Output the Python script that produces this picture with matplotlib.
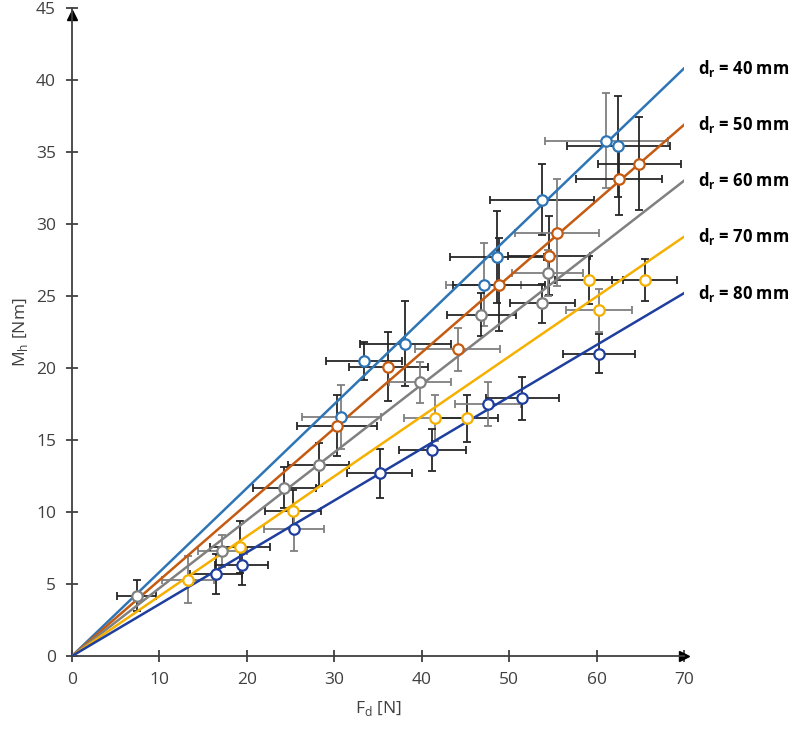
import matplotlib
matplotlib.use("Agg")
import matplotlib.pyplot as plt
import numpy as np

plt.rcParams['font.family'] = ['Open Sans', 'DejaVu Sans']

labels = ["40", "50", "60", "70", "80"]
colors = ["#2E75B6", "#C55A11", "#808080", "#F5B000", "#1F3F9E"]
slopes = [0.583, 0.527, 0.4715, 0.416, 0.36]  # fitted lines M = k*F

fd40 = [30.8, 33.4, 38.1, 47.1, 48.6, 53.8, 61.1, 62.5]
mh40 = [16.6, 20.5, 21.7, 25.8, 27.7, 31.7, 35.8, 35.4]
xe40 = [4.5, 4.4, 5.2, 4.3, 5.35, 5.95, 7.05, 5.9]
ye40 = [2.2, 1.3, 2.95, 2.85, 3.2, 2.45, 3.3, 3.5]

fd50 = [30.3, 36.2, 44.1, 48.8, 54.6, 55.5, 62.6, 64.9]
mh50 = [16.0, 20.1, 21.3, 25.8, 27.8, 29.4, 33.1, 34.2]
xe50 = [4.55, 4.55, 4.85, 5.25, 4.7, 4.8, 4.9, 4.7]
ye50 = [2.1, 2.4, 1.5, 3.2, 2.75, 3.7, 2.45, 3.2]

fd60 = [7.4, 17.2, 24.3, 28.2, 39.8, 46.8, 53.8, 54.4]
mh60 = [4.2, 7.3, 11.7, 13.3, 19.0, 23.7, 24.5, 26.6]
xe60 = [2.2, 2.8, 3.6, 3.5, 3.5, 3.95, 3.75, 4.1]
ye60 = [1.05, 1.1, 1.4, 1.5, 1.4, 1.5, 1.35, 1.6]

fd70 = [13.3, 19.2, 25.3, 41.5, 45.2, 59.1, 60.3, 65.5]
mh70 = [5.3, 7.6, 10.1, 16.5, 16.5, 26.1, 24.0, 26.1]
xe70 = [2.95, 3.45, 3.2, 3.5, 3.55, 3.9, 3.75, 3.75]
ye70 = [1.65, 1.8, 1.4, 1.6, 1.65, 1.65, 1.5, 1.45]

fd80 = [16.5, 19.4, 25.4, 35.2, 41.2, 47.6, 51.5, 60.3]
mh80 = [5.7, 6.3, 8.8, 12.7, 14.3, 17.5, 17.9, 21.0]
xe80 = [3.0, 3.05, 3.4, 3.7, 3.85, 3.8, 4.15, 4.1]
ye80 = [1.4, 1.4, 1.5, 1.7, 1.45, 1.5, 1.5, 1.35]

fds = [fd40, fd50, fd60, fd70, fd80]
mhs = [mh40, mh50, mh60, mh70, mh80]
xes = [xe40, xe50, xe60, xe70, xe80]
yes = [ye40, ye50, ye60, ye70, ye80]

fig = plt.figure(figsize=(8, 7.33), dpi=100)
ax = fig.add_axes([0.09, 0.105, 0.765, 0.884])

axcol = "#404040"
fline = np.array([0, 70])

# error bars first, alternating dark / light grey like the original
for i in range(5):
    for j in range(len(fds[i])):
        ec = "#262626" if (i + j) % 3 else "#7f7f7f"
        ax.errorbar(fds[i][j], mhs[i][j], xerr=xes[i][j], yerr=yes[i][j],
                    fmt='none', ecolor=ec, elinewidth=1.3, capsize=3.2,
                    capthick=1.3, zorder=2)

for i in range(5):
    ax.plot(fline, slopes[i] * fline, color=colors[i], lw=1.8, zorder=3)
    ax.plot(fds[i], mhs[i], 'o', ms=7.5, mfc='white', mec=colors[i], mew=1.6,
            ls='none', zorder=4)
    ax.annotate("d$_\\mathregular{r}$ = " + labels[i] + " mm",
                xy=(70, slopes[i] * 70), xytext=(10, 0),
                textcoords='offset points', va='center', ha='left',
                fontsize=12, fontweight='bold', color='black',
                annotation_clip=False)

ax.set_xlim(0, 70)
ax.set_ylim(0, 45)
ax.set_xticks(np.arange(0, 71, 10))
ax.set_yticks(np.arange(0, 46, 5))

for s in ['top', 'right']:
    ax.spines[s].set_visible(False)
for s in ['left', 'bottom']:
    ax.spines[s].set_color(axcol)
    ax.spines[s].set_linewidth(1.3)
ax.tick_params(direction='inout', length=9, width=1.3, color=axcol,
               labelsize=12.5, labelcolor=axcol, pad=7)

# arrow heads on the axes
ax.plot(1, 0, '>', color='black', ms=7, transform=ax.transAxes, clip_on=False)
ax.plot(0, 0.99, '^', color='black', ms=7, transform=ax.transAxes, clip_on=False)

ax.set_xlabel("F$_\\mathregular{d}$ [N]", fontsize=12.5, color=axcol, labelpad=8)
ax.set_ylabel("M$_\\mathregular{h}$ [Nm]", fontsize=12.5, color=axcol, labelpad=4)

fig.savefig("out.png", dpi=100)
